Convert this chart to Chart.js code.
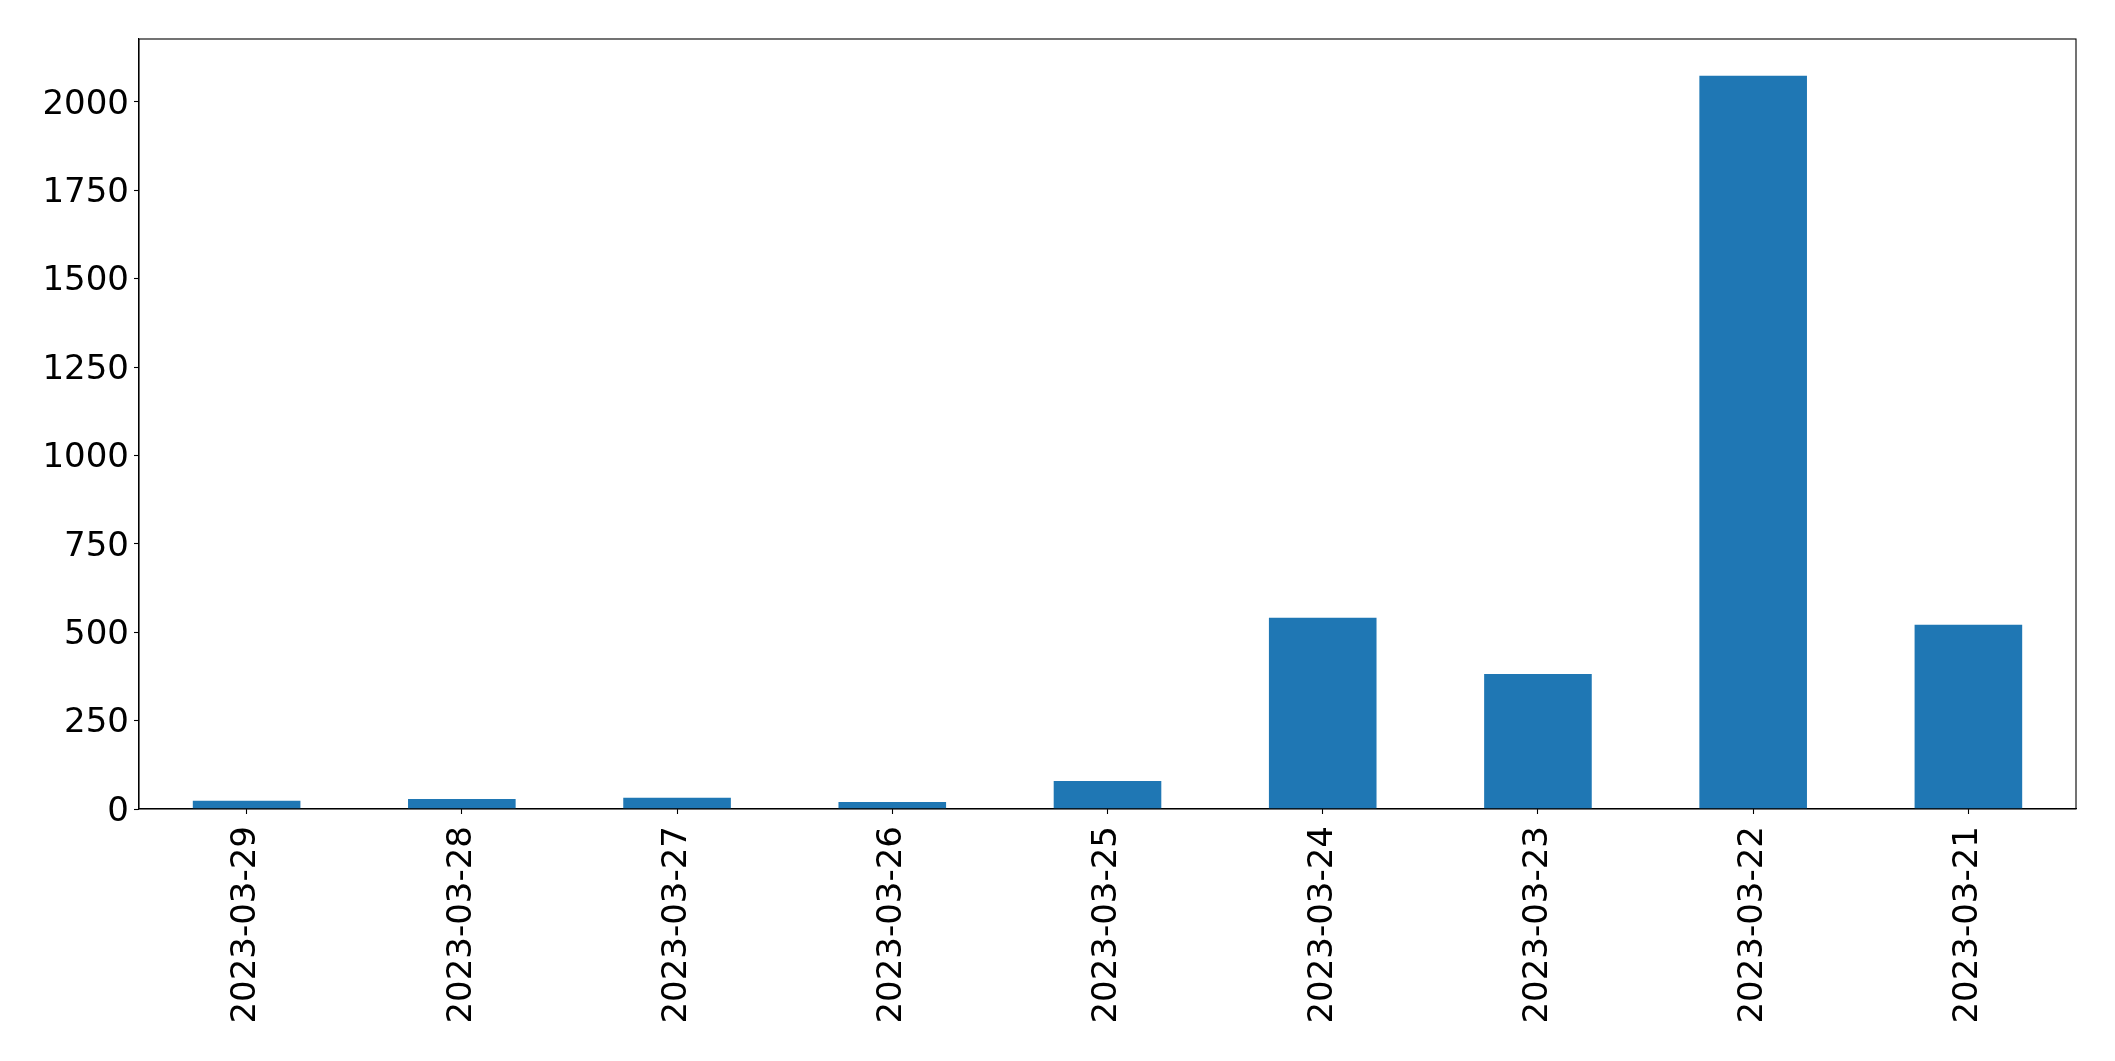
<!DOCTYPE html>
<html>
<head>
<meta charset="utf-8">
<script src="https://cdn.jsdelivr.net/npm/chart.js@4.4.0/dist/chart.umd.min.js"></script>
<style>
html,body{margin:0;padding:0;background:#fff;}
#wrap{width:2115px;height:1061px;position:relative;}
</style>
</head>
<body>
<div id="wrap"><canvas id="c" width="2115" height="1061"></canvas></div>
<script>
const categories = ["2023-03-29","2023-03-28","2023-03-27","2023-03-26","2023-03-25","2023-03-24","2023-03-23","2023-03-22","2023-03-21"];
const values = [23, 28, 32, 20, 79, 541, 382, 2074, 521];
const yTickStep = 250;

const frame = {
  id: 'frame',
  afterDraw(chart) {
    const {ctx, chartArea: a} = chart;
    ctx.save();
    ctx.strokeStyle = '#000';
    ctx.lineWidth = 1.1;
    ctx.strokeRect(a.left, a.top, a.right - a.left, a.bottom - a.top);
    ctx.restore();
  }
};

const font = {family: 'DejaVu Sans', size: 34};

new Chart(document.getElementById('c'), {
  type: 'bar',
  data: {
    labels: categories,
    datasets: [{
      data: values,
      backgroundColor: '#1f77b4',
      borderWidth: 0,
      barPercentage: 0.5,
      categoryPercentage: 1.0
    }]
  },
  options: {
    responsive: false,
    animation: false,
    layout: {padding: {left: 0, right: 39, top: 39, bottom: 0}},
    plugins: {legend: {display: false}, tooltip: {enabled: false}},
    scales: {
      x: {
        offset: true,
        grid: {display: true, drawOnChartArea: false, drawTicks: true, tickLength: 5, tickColor: '#000', tickWidth: 1.1, offset: false},
        border: {display: true, color: '#000', width: 1.1},
        ticks: {color: '#000', font: font, minRotation: 90, maxRotation: 90, padding: 12, autoSkip: false},
        afterFit(s) { s.height = 1061 - 809; }
      },
      y: {
        min: 0,
        max: Math.max(...values) * 1.05,
        grid: {display: true, drawOnChartArea: false, drawTicks: true, tickLength: 5, tickColor: '#000', tickWidth: 1.1},
        border: {display: true, color: '#000', width: 1.1},
        ticks: {color: '#000', font: font, stepSize: yTickStep, includeBounds: false, padding: 5, labelOffset: 3,
                callback: (v) => String(v)},
        afterFit(s) { s.width = 139; }
      }
    }
  },
  plugins: [frame]
});
</script>
</body>
</html>
